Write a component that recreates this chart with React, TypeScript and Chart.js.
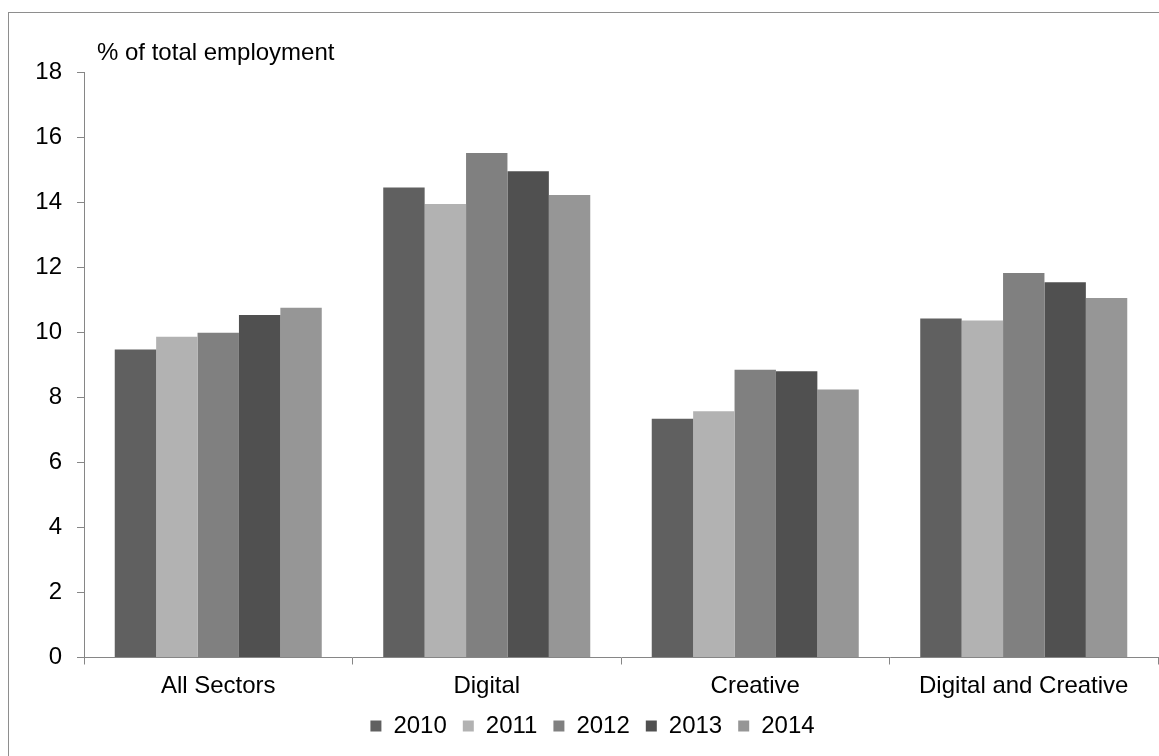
import React, { useEffect, useRef } from "react";
import { Chart, registerables } from "chart.js";

Chart.register(...registerables);

const categories = ["All Sectors", "Digital", "Creative", "Digital and Creative"];
const years = ["2010", "2011", "2012", "2013", "2014"];
const v2010 = [9.47, 14.45, 7.34, 10.42];
const v2011 = [9.86, 13.94, 7.57, 10.36];
const v2012 = [9.98, 15.51, 8.85, 11.82];
const v2013 = [10.53, 14.95, 8.8, 11.54];
const v2014 = [10.75, 14.22, 8.24, 11.05];
const yearColors = ["#606060", "#b2b2b2", "#808080", "#505050", "#969696"];
const yTitle = "% of total employment";

const FONT = "'Liberation Sans', Arial, sans-serif";
const FS = 24;
const AXIS = "#868686";

export default function App() {
  const ref = useRef<HTMLCanvasElement | null>(null);
  useEffect(() => {
    if (!ref.current) return;
    const series = [v2010, v2011, v2012, v2013, v2014];
    const titlePlugin = {
      id: "yTitleTop",
      afterLayout(chart: any) {
        if (chart.legend) {
          chart.legend.left += 9;
          chart.legend.right += 9;
        }
      },
      afterDraw(chart: any) {
        const ctx = chart.ctx;
        ctx.save();
        ctx.font = `${FS}px ${FONT}`;
        ctx.fillStyle = "#000";
        ctx.textAlign = "left";
        ctx.textBaseline = "alphabetic";
        ctx.fillText(yTitle, 88, 46.5);
        ctx.restore();
      },
    };
    const chart = new Chart(ref.current, {
      type: "bar",
      data: {
        labels: categories,
        datasets: years.map((y, i) => ({
          label: y,
          data: series[i],
          backgroundColor: yearColors[i],
          borderWidth: 0,
          barPercentage: 1,
          categoryPercentage: 0.771,
        })),
      },
      options: {
        animation: false,
        responsive: true,
        maintainAspectRatio: false,
        layout: { padding: { top: 59, left: 0, right: 1, bottom: 8 } },
        plugins: {
          tooltip: { enabled: false },
          title: { display: false },
          legend: {
            position: "bottom",
            labels: {
              boxWidth: 11,
              boxHeight: 11,
              padding: 16,
              color: "#000",
              font: { family: FONT, size: FS },
            },
          },
        },
        scales: {
          x: {
            grid: {
              display: true,
              drawOnChartArea: false,
              drawTicks: true,
              tickLength: 7,
              color: AXIS,
              offset: true,
            },
            border: { display: true, color: AXIS, width: 1 },
            ticks: {
              color: "#000",
              padding: 7,
              maxRotation: 0,
              font: { family: FONT, size: FS },
            },
            afterFit(scale: any) {
              scale.height = 40.5;
            },
          },
          y: {
            min: 0,
            max: 18,
            grid: {
              display: true,
              drawOnChartArea: false,
              drawTicks: true,
              tickLength: 7,
              color: AXIS,
            },
            border: { display: true, color: AXIS, width: 1 },
            ticks: {
              stepSize: 2,
              color: "#000",
              padding: 15,
              font: { family: FONT, size: FS },
            },
            afterFit(scale: any) {
              scale.width = 75;
            },
          },
        },
      },
      plugins: [titlePlugin],
    });
    return () => chart.destroy();
  }, []);

  return (
    <div
      style={{
        position: "fixed",
        left: 8,
        top: 12,
        width: 1151,
        height: 744,
        boxSizing: "border-box",
        borderTop: "1px solid #8e8e8e",
        borderLeft: "1px solid #8e8e8e",
        background: "#fff",
      }}
    >
      <div style={{ position: "relative", width: 1150, height: 743 }}>
        <canvas ref={ref} />
      </div>
    </div>
  );
}
